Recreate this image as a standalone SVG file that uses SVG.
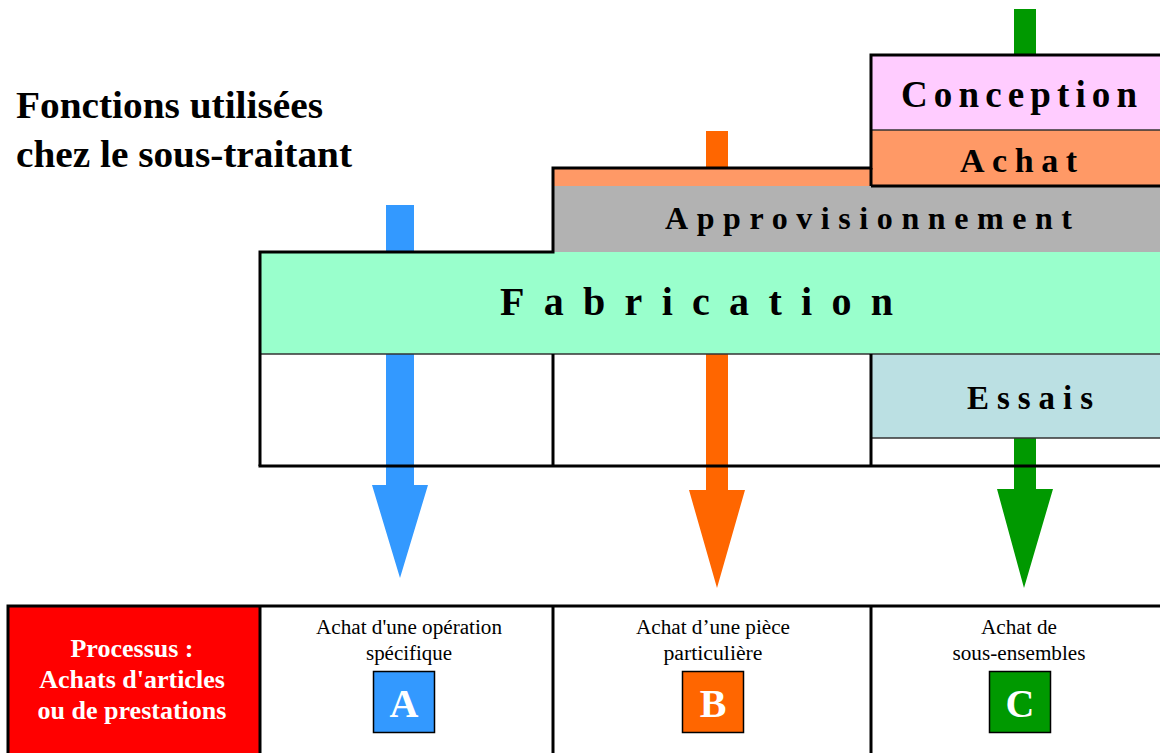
<svg xmlns="http://www.w3.org/2000/svg" width="1160" height="753" viewBox="0 0 1160 753">
<style>
.band{font-family:"Liberation Serif","Times New Roman",serif;font-weight:bold;fill:#000}
.title{font-family:"Liberation Serif","Times New Roman",serif;font-weight:bold;font-size:38px;fill:#000}
.small{font-family:"Liberation Serif","Times New Roman",serif;font-size:20px;fill:#000;text-anchor:middle}
.proc{font-family:"Liberation Serif","Times New Roman",serif;font-weight:bold;font-size:26px;fill:#fff;text-anchor:middle}
.letter{font-family:"Liberation Serif","Times New Roman",serif;font-weight:bold;font-size:40px;fill:#fff;text-anchor:middle}
.thick{stroke:#000;stroke-width:3;fill:none}
.thin{stroke:#333;stroke-width:1.5;fill:none}
</style>
<rect width="1160" height="753" fill="#fff"/>

<g id="connectors">
  <polygon fill="#3399FF" points="386,205 414,205 414,485 428,485 400,578 372,485 386,485"/>
  <polygon fill="#FF6600" points="706,131 728,131 728,490 745,490 717,588 689,490 706,490"/>
  <polygon fill="#009900" points="1014,9 1036,9 1036,489 1053,489 1024,588 997,489 1014,489"/>
</g>

<g id="title">
  <text class="title" x="16" y="118" textLength="307" lengthAdjust="spacingAndGlyphs">Fonctions utilisées</text>
  <text class="title" x="16" y="167" textLength="336" lengthAdjust="spacingAndGlyphs">chez le sous-traitant</text>
</g>

<g id="conception">
  <rect x="871" y="55" width="300" height="75" fill="#FFCCFF"/>
  <text class="band" font-size="37" x="901" y="107" textLength="236" lengthAdjust="spacing">Conception</text>
</g>
<g id="achat">
  <rect x="871" y="130" width="300" height="56" fill="#FF9966"/>
  <text class="band" font-size="34" x="960" y="172" textLength="117" lengthAdjust="spacing">Achat</text>
</g>
<g id="approvisionnement">
  <rect x="553" y="168" width="318" height="18" fill="#FF9966"/>
  <rect x="553" y="186" width="620" height="66" fill="#B2B2B2"/>
  <text class="band" font-size="32" x="665" y="229" textLength="407" lengthAdjust="spacing">Approvisionnement</text>
</g>
<g id="fabrication">
  <rect x="260" y="252" width="910" height="102" fill="#99FFCC"/>
  <text class="band" font-size="40" x="500" y="315" textLength="393" lengthAdjust="spacing">Fabrication</text>
</g>
<g id="essais">
  <rect x="871" y="354" width="300" height="84" fill="#BBE0E3"/>
  <text class="band" font-size="33" x="967" y="409" textLength="126" lengthAdjust="spacing">Essais</text>
</g>

<g id="frame">
  <line class="thin" x1="871" y1="130" x2="1160" y2="130"/>
  <line class="thin" x1="260" y1="354" x2="1160" y2="354"/>
  <line class="thin" x1="871" y1="438" x2="1160" y2="438"/>
  <line class="thick" x1="871" y1="186" x2="1160" y2="186"/>
  <polyline class="thick" points="260,466 260,252 553,252 553,168 871,168 871,55 1162,55"/>
  <line class="thick" x1="871" y1="168" x2="871" y2="186"/>
  <line class="thick" x1="553" y1="354" x2="553" y2="466"/>
  <line class="thick" x1="871" y1="354" x2="871" y2="466"/>
  <line class="thick" x1="258.5" y1="466" x2="1162" y2="466"/>
</g>

<g id="processus">
  <rect x="8" y="606" width="252" height="150" fill="#FF0000"/>
  <text class="proc" x="132" y="657">Processus :</text>
  <text class="proc" x="132" y="688">Achats d'articles</text>
  <text class="proc" x="132" y="719">ou de prestations</text>
</g>
<g id="cellA">
  <text class="small" x="409" y="634" textLength="186" lengthAdjust="spacingAndGlyphs">Achat d'une opération</text>
  <text class="small" x="409" y="660" textLength="86" lengthAdjust="spacingAndGlyphs">spécifique</text>
  <rect x="373.5" y="671.5" width="61" height="61" fill="#3399FF" stroke="#000" stroke-width="1.5"/>
  <text class="letter" x="404" y="717">A</text>
</g>
<g id="cellB">
  <text class="small" x="713" y="634" textLength="154" lengthAdjust="spacingAndGlyphs">Achat d’une pièce</text>
  <text class="small" x="713" y="660" textLength="99" lengthAdjust="spacingAndGlyphs">particulière</text>
  <rect x="682.5" y="671.5" width="61" height="61" fill="#FF6600" stroke="#000" stroke-width="1.5"/>
  <text class="letter" x="713" y="717">B</text>
</g>
<g id="cellC">
  <text class="small" x="1019" y="634" textLength="76" lengthAdjust="spacingAndGlyphs">Achat de</text>
  <text class="small" x="1019" y="660" textLength="133" lengthAdjust="spacingAndGlyphs">sous-ensembles</text>
  <rect x="989.5" y="671.5" width="61" height="61" fill="#009900" stroke="#000" stroke-width="1.5"/>
  <text class="letter" x="1020" y="717">C</text>
</g>
<g id="table-lines">
  <polyline class="thick" points="8,760 8,606 1162,606"/>
  <line class="thick" x1="260" y1="606" x2="260" y2="760"/>
  <line class="thick" x1="553" y1="606" x2="553" y2="760"/>
  <line class="thick" x1="871" y1="606" x2="871" y2="760"/>
</g>
</svg>
